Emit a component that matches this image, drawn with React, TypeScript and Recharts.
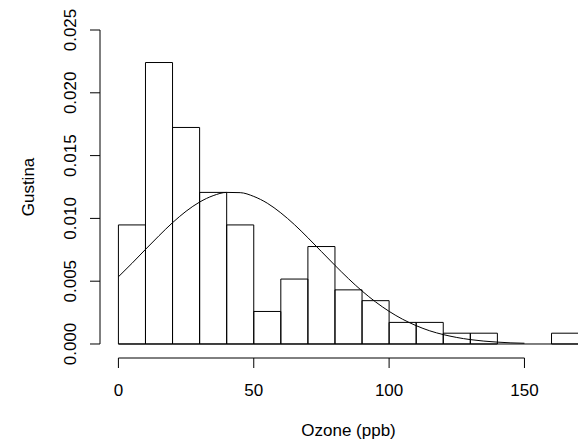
import { ComposedChart, Line, XAxis, YAxis, ReferenceArea, ReferenceLine, Label } from 'recharts';

const FONT = '"Liberation Sans", Arial, sans-serif';

// histogram of ozone, bins of 10 ppb
const binStarts = [0, 10, 20, 30, 40, 50, 60, 70, 80, 90, 100, 110, 120, 130, 140, 150, 160];
const binDensity = [
  0.00948, 0.02241, 0.01724, 0.01207, 0.00948, 0.00259, 0.00517, 0.00776, 0.00431,
  0.00345, 0.00172, 0.00172, 0.00086, 0.00086, 0, 0, 0.00086,
];
const BIN_WIDTH = 10;

// normal density curve
const curveX = [
  0, 5, 10, 15, 20, 25, 30, 35, 40, 45, 50, 55, 60, 65, 70, 75, 80, 85, 90, 95, 100,
  105, 110, 115, 120, 125, 130, 135, 140, 145, 150,
];
const curveY = [
  0.00535, 0.00642, 0.00753, 0.00862, 0.00966, 0.01057, 0.0113, 0.01181, 0.01207, 0.01205,
  0.01175, 0.01121, 0.01044, 0.00951, 0.00846, 0.00736, 0.00626, 0.0052, 0.00422, 0.00335,
  0.0026, 0.00197, 0.00146, 0.00105, 0.00075, 0.00052, 0.00035, 0.00023, 0.00015, 0.00009,
  0.00006,
];

const xTicks = [0, 50, 100, 150];
const yTicks = [0, 0.005, 0.01, 0.015, 0.02, 0.025];
const yTickLabels = ['0.000', '0.005', '0.010', '0.015', '0.020', '0.025'];

const curve = curveX.map((x, i) => ({ x, d: curveY[i] }));
const bins = binStarts.map((start, i) => ({ x1: start, x2: start + BIN_WIDTH, d: binDensity[i] }));

const X_DOMAIN: [number, number] = [-6.8, 176.8];
const Y_DOMAIN: [number, number] = [-0.001115, 0.025];

function XTick({ x, y, payload }: any) {
  return (
    <text x={x} y={y + 26} textAnchor="middle" fontFamily={FONT} fontSize={17} fill="#000">
      {payload.value}
    </text>
  );
}

function YTick({ x, y, payload }: any) {
  const i = yTicks.indexOf(payload.value);
  const bx = x - 12;
  return (
    <text
      x={bx}
      y={y}
      transform={`rotate(-90, ${bx}, ${y})`}
      textAnchor="middle"
      fontFamily={FONT}
      fontSize={17}
      fill="#000"
    >
      {yTickLabels[i] ?? payload.value}
    </text>
  );
}

function YLabel() {
  return (
    <text
      x={34}
      y={187}
      transform="rotate(-90, 34, 187)"
      textAnchor="middle"
      fontFamily={FONT}
      fontSize={17}
      fill="#000"
    >
      Gustina
    </text>
  );
}

export default function App() {
  return (
    <div style={{ position: 'absolute', left: 0, top: 0, width: 578, height: 444, overflow: 'hidden', background: '#fff' }}>
      <ComposedChart width={597} height={444} data={curve} margin={{ top: 30, right: 0, bottom: 0, left: 0 }}>
        <XAxis
          dataKey="x"
          type="number"
          domain={X_DOMAIN}
          allowDataOverflow
          ticks={xTicks}
          axisLine={false}
          tickLine={{ stroke: '#000' }}
          tickSize={10}
          tick={<XTick />}
          height={86}
        >
          <Label
            value="Ozone (ppb)"
            position="insideBottom"
            offset={8}
            style={{ fontFamily: FONT, fontSize: 17, fill: '#000' }}
          />
        </XAxis>
        <YAxis
          type="number"
          domain={Y_DOMAIN}
          allowDataOverflow
          ticks={yTicks}
          axisLine={false}
          tickLine={{ stroke: '#000' }}
          tickSize={10}
          tick={<YTick />}
          width={100}
        >
          <Label content={<YLabel />} />
        </YAxis>

        {/* axis lines only span the tick range, like base R */}
        <ReferenceLine
          segment={[{ x: X_DOMAIN[0], y: 0 }, { x: X_DOMAIN[0], y: 0.025 }]}
          stroke="#000"
          ifOverflow="visible"
        />
        <ReferenceLine
          segment={[{ x: 0, y: Y_DOMAIN[0] }, { x: 150, y: Y_DOMAIN[0] }]}
          stroke="#000"
          ifOverflow="visible"
        />

        {bins.map((b) => (
          <ReferenceArea
            key={b.x1}
            x1={b.x1}
            x2={b.x2}
            y1={0}
            y2={b.d}
            fill="none"
            fillOpacity={0}
            stroke="#000"
            strokeWidth={1}
            ifOverflow="visible"
          />
        ))}
        <ReferenceLine
          segment={[{ x: binStarts[0], y: 0 }, { x: binStarts[binStarts.length - 1] + BIN_WIDTH, y: 0 }]}
          stroke="#000"
          ifOverflow="visible"
        />

        <Line
          dataKey="d"
          type="monotone"
          stroke="#000"
          strokeWidth={1}
          dot={false}
          activeDot={false}
          isAnimationActive={false}
        />
      </ComposedChart>
    </div>
  );
}
